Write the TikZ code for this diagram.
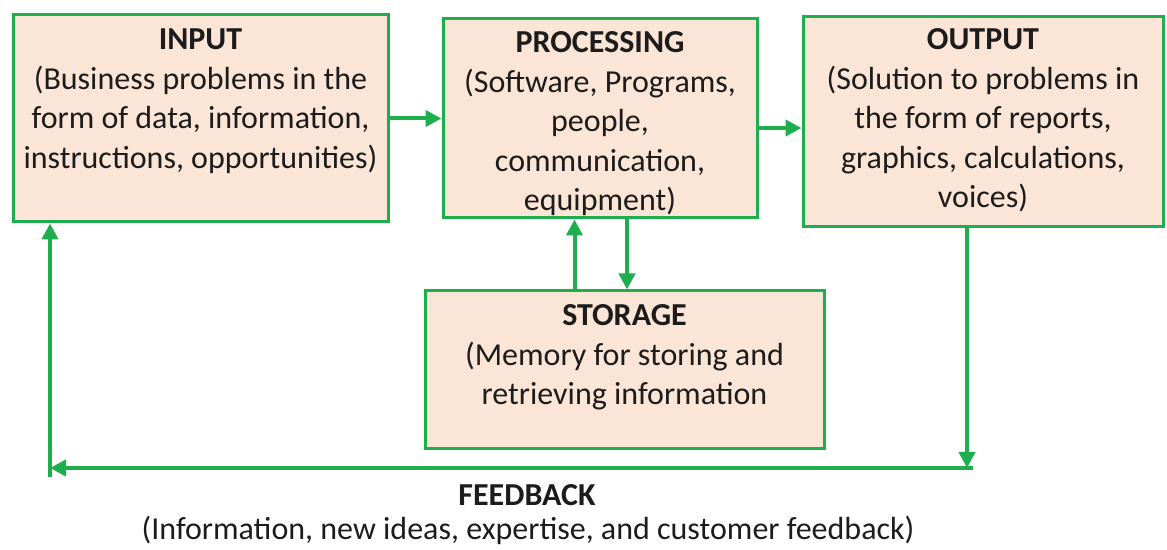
\documentclass[tikz,border=0pt]{standalone}
\usepackage{fontspec}
\setmainfont{Carlito}
\usepackage{tikz}
\usetikzlibrary{positioning, arrows.meta}

\definecolor{boxfill}{HTML}{FBE5D6}
\definecolor{flowgreen}{HTML}{1FAE4E}
\definecolor{inkdark}{HTML}{1C1C1C}

\tikzset{
    block/.style={draw=flowgreen, line width=1.5pt, fill=boxfill, inner sep=0pt},
    blocktext/.style={align=center, text=inkdark, inner sep=0pt,
        font=\fontsize{16}{19.75}\selectfont},
    flow/.style={draw=flowgreen, line width=2pt, -{Triangle[length=8pt, width=8pt]}}
}

\begin{document}
\begin{tikzpicture}[x=0.5pt, y=-0.5pt]
    \useasboundingbox (0,0) rectangle (1167,550);
    % the four boxes
    \node[block, minimum width=187.5pt, minimum height=103.5pt] (input) at (200.5,118.5) {};
    \node[block, minimum width=157pt, minimum height=99.5pt] (proc) at (600,118.5) {};
    \node[block, minimum width=180pt, minimum height=105pt] (output) at (983,122) {};
    \node[block, minimum width=199.5pt, minimum height=79pt] (storage) at (624.5,370) {};

    % box texts
    \node[blocktext, anchor=north] (inputtxt) at ([yshift=-7.5pt]input.north)
        {\textbf{INPUT}\\(Business problems in the\\form of data, information,\\instructions, opportunities)};
    \node[blocktext, anchor=north] (proctxt) at ([yshift=-7pt]proc.north)
        {\textbf{PROCESSING}\\(Software, Programs,\\people,\\communication,\\equipment)};
    \node[blocktext, anchor=north] (outputtxt) at ([yshift=-6.5pt]output.north)
        {\textbf{OUTPUT}\\(Solution to problems in\\the form of reports,\\graphics, calculations,\\voices)};
    \node[blocktext, anchor=north] (storagetxt) at ([yshift=-7.5pt]storage.north)
        {\textbf{STORAGE}\\(Memory for storing and\\retrieving information};

    % flows between boxes
    \coordinate (procout) at ([yshift=-4.75pt]proc.east);
    \coordinate (storeup) at ([xshift=-25pt]storage.north);
    \coordinate (procdown) at ([xshift=13.5pt]proc.south);
    \draw[flow] (input.east) -- (proc.west |- input.east);
    \draw[flow] (procout) -- (output.west |- procout);
    \draw[flow] (storeup) -- (proc.south -| storeup);
    \draw[flow] (procdown) -- (storage.north -| procdown);

    % feedback loop
    \coordinate (fbright) at (967,468);
    \coordinate (fbleft) at (50,468);
    \coordinate (fbfoot) at (50,477);
    \draw[flow] (output.south -| fbright) -- (fbright);
    \draw[flow] ([xshift=3pt]fbright) -- (fbleft);
    \draw[flow] (fbfoot) -- (input.south -| fbleft);

    \node[blocktext] (fbtitle) at (527,495) {\textbf{FEEDBACK}};
    \node[blocktext] (fbtext) at (528,530) {(Information, new ideas, expertise, and customer feedback)};
\end{tikzpicture}
\end{document}
